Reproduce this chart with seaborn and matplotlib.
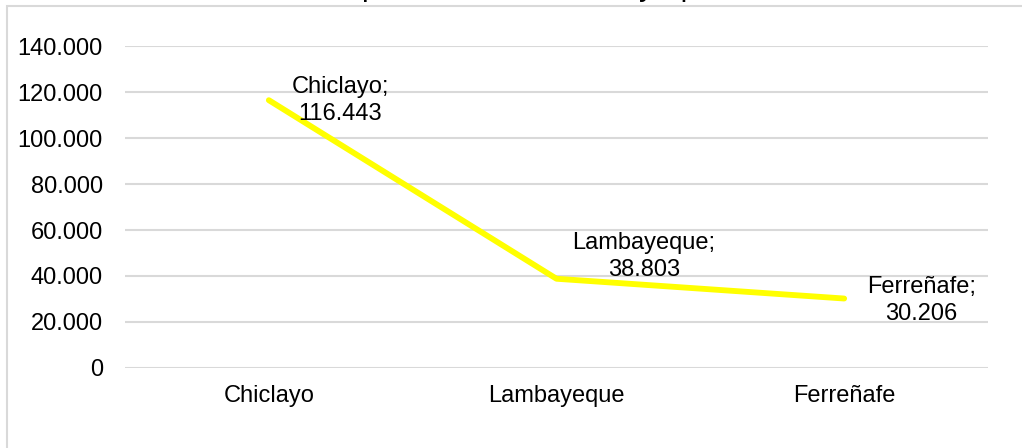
import matplotlib
matplotlib.use('Agg')

import matplotlib.pyplot as plt
import matplotlib.ticker as mticker
from matplotlib.patches import Rectangle
import pandas as pd
import seaborn as sns

# Data
provincias = ['Chiclayo', 'Lambayeque', 'Ferreñafe']
valores = [116443, 38803, 30206]
y_ticks = [0, 20000, 40000, 60000, 80000, 100000, 120000, 140000]
titulo = 'provincias de Lambayeque'

# label offsets (pixels) from each point
label_offsets = [(23, 0), (16, 22), (23, -2)]


def fmt_miles(v):
    return f"{int(round(v)):,}".replace(',', '.')


sns.set_theme(style='white')
plt.rcParams['font.family'] = ['Liberation Sans', 'DejaVu Sans']

df = pd.DataFrame({'provincia': provincias, 'valor': valores})

fig = plt.figure(figsize=(10.22, 4.48), dpi=100)
ax = fig.add_axes([125 / 1022, 1 - 368 / 448, (988 - 125) / 1022, (368 - 46) / 448])

sns.lineplot(data=df, x='provincia', y='valor', ax=ax, sort=False,
             color='#FFFF00', linewidth=4.2, solid_capstyle='round')

ax.set_ylim(0, 140000)
ax.set_xlim(-0.5, len(provincias) - 0.5)
ax.set_yticks(y_ticks)
ax.yaxis.set_major_formatter(mticker.FuncFormatter(lambda v, p: fmt_miles(v)))
ax.set_xlabel('')
ax.set_ylabel('')
ax.grid(axis='y', color='#D9D9D9', linewidth=1.5)
ax.grid(axis='x', visible=False)
ax.set_axisbelow(True)
for s in ax.spines.values():
    s.set_visible(False)
ax.tick_params(axis='y', length=0, pad=16, labelsize=17, labelcolor='#000000')
ax.tick_params(axis='x', length=0, pad=12, labelsize=17, labelcolor='#000000')

for i, (cat, val) in enumerate(zip(provincias, valores)):
    ax.annotate(f"{cat};\n{fmt_miles(val)}", xy=(i, val),
                xytext=label_offsets[i], textcoords='offset pixels',
                ha='left', va='center', multialignment='center',
                fontsize=17, color='#000000', linespacing=1.3)

# chart area frame (cropped on right and bottom)
fig.patches.append(Rectangle((7 / 1022, -0.1), 1.2, 1 - 6 / 448 + 0.1,
                             transform=fig.transFigure, fill=False,
                             edgecolor='#D9D9D9', linewidth=1.5))

# title sits mostly above the visible area, only its foot shows
fig.text(0.53, 1 + 4 / 448, titulo, ha='center', va='baseline',
         fontsize=21.6, color='#000000')

fig.savefig('out.png', dpi=100)
